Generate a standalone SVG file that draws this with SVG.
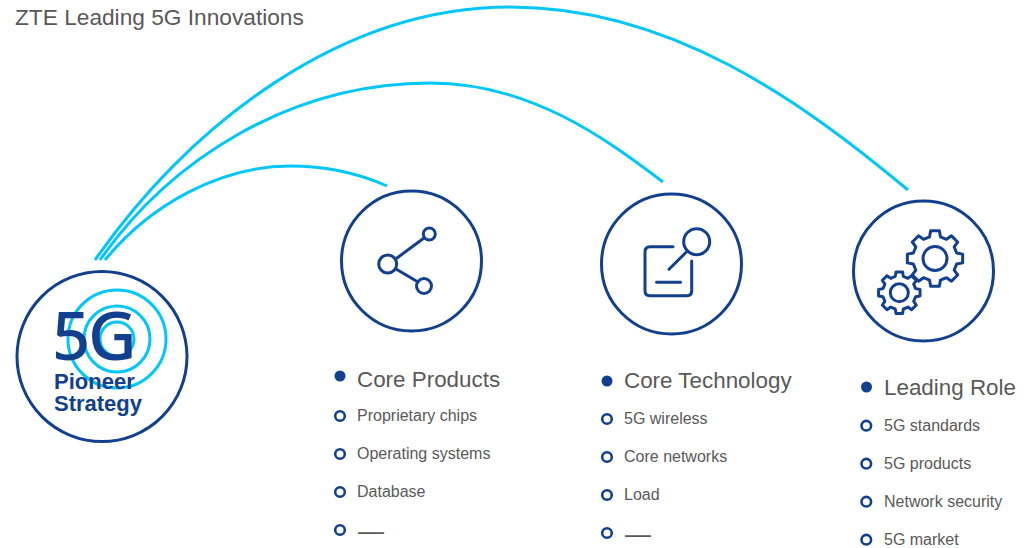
<svg xmlns="http://www.w3.org/2000/svg" width="1034" height="548" viewBox="0 0 1034 548">
<style>
text{font-family:"Liberation Sans",Arial,sans-serif;fill:#595959}
.title{font-size:22.7px}
.h{font-size:22.4px}
.s{font-size:16px}
.d{font-size:26px}
.ring{fill:none;stroke:#12408f;stroke-width:3}
.ic{fill:none;stroke:#12408f;stroke-width:3;stroke-linecap:round;stroke-linejoin:round}
.cy{fill:none;stroke:#00c6fb;stroke-width:3}
.dot{fill:#12408f}
.sub{fill:#fff;stroke:#12408f;stroke-width:2.6}
.blue{fill:#12408f;font-weight:700}
.big{font-family:"Noto Sans",sans-serif;font-size:67px;font-weight:500}
</style>
<defs>
<polygon id="gear" points="-5.42,-21.73 -4.38,-27.66 4.38,-27.66 5.42,-21.73 11.53,-19.2 16.46,-22.66 22.66,-16.46 19.2,-11.53 21.73,-5.42 27.66,-4.38 27.66,4.38 21.73,5.42 19.2,11.53 22.66,16.46 16.46,22.66 11.53,19.2 5.42,21.73 4.38,27.66 -4.38,27.66 -5.42,21.73 -11.53,19.2 -16.46,22.66 -22.66,16.46 -19.2,11.53 -21.73,5.42 -27.66,4.38 -27.66,-4.38 -21.73,-5.42 -19.2,-11.53 -22.66,-16.46 -16.46,-22.66 -11.53,-19.2"/>
</defs>
<rect width="1034" height="548" fill="#fff"/>
<text class="title" x="15" y="25">ZTE Leading 5G Innovations</text>
<g id="connectors" class="cy">
<path d="M95 260C190 125 340 7 510 7C670 7 800 100 908 190"/>
<path d="M100 260C170 160 290 83 430 83C530 83 605 138 663 182"/>
<path d="M105 260C150 205 220 166 290 166C325 166 360 174 387 186"/>
</g>
<g id="strategy">
<circle class="ring" cx="102" cy="356.5" r="85"/>
<circle class="cy" cx="117" cy="339" r="49"/>
<circle class="cy" cx="117" cy="339" r="33"/>
<circle class="cy" cx="117" cy="339" r="17"/>
<text class="blue big" x="52 88" y="360">5G</text>
<text class="blue" x="54" y="389" font-size="22">Pioneer</text>
<text class="blue" x="54" y="411" font-size="22">Strategy</text>
</g>
<g id="products">
<circle class="ring" cx="411.5" cy="261" r="70"/>
<g class="ic">
<circle cx="387.7" cy="264" r="9"/><circle cx="429.3" cy="234" r="6"/><circle cx="424" cy="286" r="7.5"/>
<path d="M397 258L424 238M396 269L418 282"/>
</g>
<circle class="dot" cx="340" cy="376" r="5.5"/><text class="h" x="357" y="387">Core Products</text>
<circle class="sub" cx="340" cy="416" r="4.8"/><text class="s" x="357" y="421">Proprietary chips</text>
<circle class="sub" cx="340" cy="454" r="4.8"/><text class="s" x="357" y="459">Operating systems</text>
<circle class="sub" cx="340" cy="492" r="4.8"/><text class="s" x="357" y="497">Database</text>
<circle class="sub" cx="340" cy="530" r="4.8"/><text class="d" x="358" y="540">—</text>
</g>
<g id="technology">
<circle class="ring" cx="671.5" cy="264" r="70"/>
<g class="ic">
<path d="M673 246.700H650Q645 246.700 645 251.700V290.700Q645 295.700 650 295.700H686.700Q691.700 295.700 691.700 290.700V261"/>
<circle cx="696.700" cy="241.700" r="13"/>
<path d="M686.700 251.700L669 269.300M656.500 282.300H680.500"/>
</g>
<circle class="dot" cx="607" cy="381" r="5.500"/><text class="h" x="624" y="388">Core Technology</text>
<circle class="sub" cx="607" cy="419" r="4.8"/><text class="s" x="624" y="424">5G wireless</text>
<circle class="sub" cx="607" cy="457" r="4.8"/><text class="s" x="624" y="462">Core networks</text>
<circle class="sub" cx="607" cy="495" r="4.8"/><text class="s" x="624" y="500">Load</text>
<circle class="sub" cx="607" cy="533" r="4.8"/><text class="d" x="625" y="543">—</text>
</g>
<g id="role">
<circle class="ring" cx="923.500" cy="271" r="70"/>
<g class="ic">
<use href="#gear" transform="translate(935 258.500)"/>
<circle cx="935" cy="258.500" r="12"/>
<use href="#gear" transform="translate(899.300 292.700) scale(.75)" style="stroke-width:4"/>
<circle cx="899.300" cy="292.700" r="9"/>
</g>
<circle class="dot" cx="866.500" cy="387" r="5.500"/><text class="h" x="884" y="395">Leading Role</text>
<circle class="sub" cx="866.300" cy="425.700" r="4.8"/><text class="s" x="884" y="431">5G standards</text>
<circle class="sub" cx="866.300" cy="463.700" r="4.8"/><text class="s" x="884" y="469">5G products</text>
<circle class="sub" cx="866.300" cy="501.700" r="4.8"/><text class="s" x="884" y="507">Network security</text>
<circle class="sub" cx="866.300" cy="539.700" r="4.8"/><text class="s" x="884" y="545">5G market</text>
</g>
</svg>
